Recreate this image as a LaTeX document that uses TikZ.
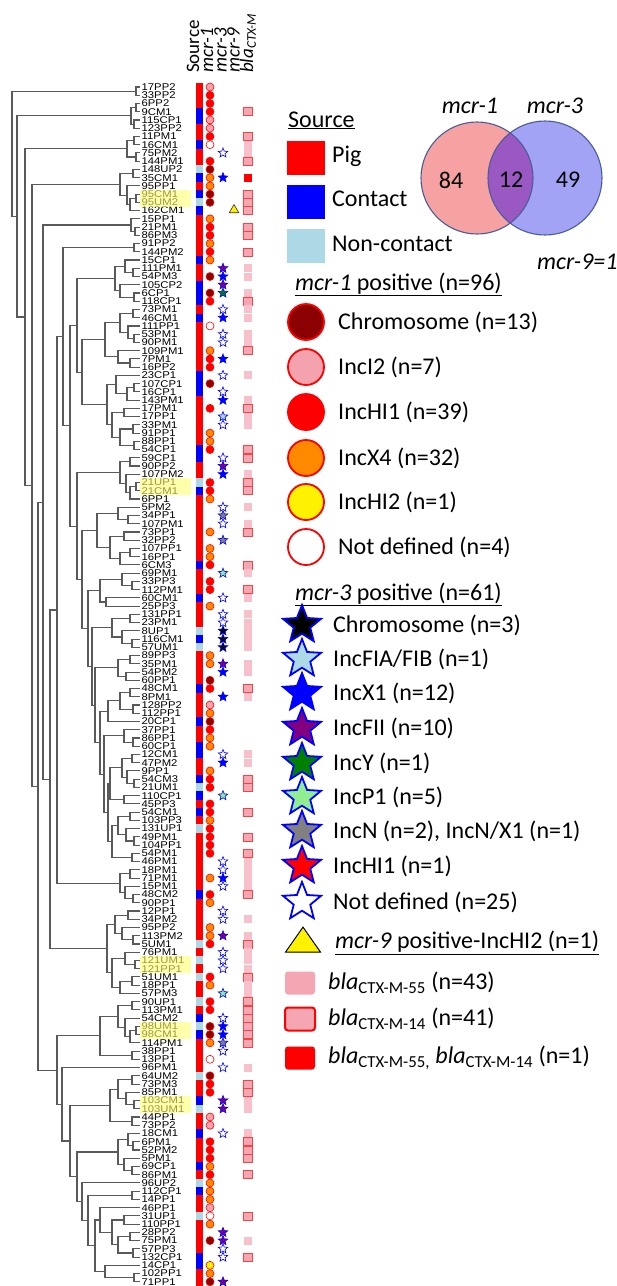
\documentclass[tikz,border=0pt]{standalone}
\usepackage{fontspec}
\setmainfont{Carlito}
\newfontfamily\labfont[FakeStretch=1.15]{Liberation Sans}
\usetikzlibrary{shapes.geometric,calc}
\definecolor{srcP}{HTML}{FF0000}
\definecolor{srcC}{HTML}{0000FF}
\definecolor{srcU}{HTML}{ADD8E6}
\definecolor{chromo}{HTML}{8B0000}
\definecolor{inctwo}{HTML}{F4A3AE}
\definecolor{incxfour}{HTML}{FF8A00}
\definecolor{blapink}{HTML}{F4A6B3}
\definecolor{blalight}{HTML}{F8C0CA}
\definecolor{vennL}{HTML}{F6A2A2}
\definecolor{vennR}{HTML}{A3A3F6}
\definecolor{vennM}{HTML}{9A58C2}
\definecolor{vennline}{HTML}{4A5D9A}
\definecolor{hlyellow}{HTML}{FFFF70}
\definecolor{starlb}{HTML}{ADD8E6}
\definecolor{starlg}{HTML}{90EE90}
\definecolor{starpurple}{HTML}{800080}
\definecolor{stargreen}{HTML}{008000}
\definecolor{treegray}{HTML}{5A5A5A}
\newcommand\hdfont{\fontsize{19}{19}\selectfont}
\newcommand\lgfont{\fontsize{24}{28}\selectfont}
\newcounter{tnode}
\newcommand\dgL[1]{\xdef\dglast{l#1}}
\newcommand\dgT[3]{\begingroup #2\let\dga\dglast #3\let\dgb\dglast
  \stepcounter{tnode}\edef\dgn{t\arabic{tnode}}%
  \path let \p1=(\dga), \p2=(\dgb) in coordinate (\dgn) at (#1pt,{0.5*(\y1+\y2)});
  \draw[tree] (\dga) -- (\dga -| \dgn) -- (\dgb -| \dgn) -- (\dgb);
  \xdef\dglast{\dgn}\endgroup}
\newcommand\dgP[3]{\dgT{#1}{\dgL{#2}}{\dgL{#3}}}
% tree topology
\def\dgCone{\dgP{136}{0}{1}}
\def\dgCtwo{\dgT{131}{\dgP{136}{2}{3}}{\dgP{134}{4}{5}}}
\def\dgCthree{\dgT{127}{\dgP{134}{6}{7}}{\dgP{136}{8}{9}}}
\def\dgCfour{\dgT{120}{\dgP{133}{10}{11}}{\dgT{127}{\dgL{12}}{\dgT{130}{\dgP{136}{13}{14}}{\dgL{15}}}}}
\def\dgCfive{\dgT{131}{\dgL{16}}{\dgP{135}{17}{18}}}
\def\dgCsix{\dgP{134}{19}{20}}
\def\dgCA{\dgT{115}{\dgT{125}{\dgL{21}}{\dgP{133}{22}{23}}}{\dgT{120}{\dgL{24}}{\dgP{134}{25}{26}}}}
\def\dgCB{\dgT{105}{\dgT{120}{\dgP{133}{27}{28}}{\dgT{128}{\dgL{29}}{\dgP{134}{30}{31}}}}{\dgT{118}{\dgL{32}}{\dgP{130}{33}{34}}}}
\def\dgCC{\dgT{107}{\dgT{116}{\dgL{35}}{\dgT{127}{\dgP{134}{36}{37}}{\dgL{38}}}}{\dgT{112}{\dgP{124}{39}{40}}{\dgT{120}{\dgP{133}{41}{42}}{\dgP{134}{43}{44}}}}}
\def\dgCD{\dgT{120}{\dgP{130}{45}{46}}{\dgT{126}{\dgL{47}}{\dgT{130}{\dgP{136}{48}{49}}{\dgL{50}}}}}
\def\dgGone{\dgT{97}{\dgT{118}{\dgL{51}}{\dgP{128}{52}{53}}}{\dgT{110}{\dgP{124}{54}{55}}{\dgT{120}{\dgP{130}{56}{57}}{\dgL{58}}}}}
\def\dgGtwo{\dgT{122}{\dgL{59}}{\dgP{132}{60}{61}}}
\def\dgGfive{\dgT{112}{\dgP{130}{64}{65}}{\dgT{122}{\dgL{66}}{\dgP{132}{67}{68}}}}
\def\dgGsix{\dgT{118}{\dgP{130}{69}{70}}{\dgP{126}{71}{72}}}
\def\dgGseven{\dgT{120}{\dgP{130}{73}{74}}{\dgP{133}{75}{76}}}
\def\dgGnine{\dgT{124}{\dgL{78}}{\dgP{133}{79}{80}}}
\def\dgGten{\dgT{110}{\dgT{122}{\dgP{132}{81}{82}}{\dgT{127}{\dgL{83}}{\dgP{134}{84}{85}}}}{\dgP{124}{86}{87}}}
\def\dgGeleven{\dgT{118}{\dgP{130}{88}{89}}{\dgT{126}{\dgL{90}}{\dgP{134}{91}{92}}}}
\def\dgGtwelve{\dgP{132}{93}{94}}
\def\dgTsix{\dgT{108}{\dgGten}{\dgT{112}{\dgGeleven}{\dgGtwelve}}}
\def\dgTfive{\dgT{104}{\dgGnine}{\dgTsix}}
\def\dgTfour{\dgT{100}{\dgT{108}{\dgGseven}{\dgL{77}}}{\dgTfive}}
\def\dgTthree{\dgT{95}{\dgGsix}{\dgTfour}}
\def\dgTtwo{\dgT{92}{\dgGfive}{\dgTthree}}
\def\dgTone{\dgT{88}{\dgT{100}{\dgGtwo}{\dgP{106}{62}{63}}}{\dgTtwo}}
\def\dgCE{\dgT{82}{\dgGone}{\dgTone}}
\def\dgNb{\dgT{77}{\dgCD}{\dgCE}}
\def\dgNa{\dgT{77}{\dgCA}{\dgT{82}{\dgCB}{\dgCC}}}
\def\dgNseventy{\dgT{70}{\dgNa}{\dgNb}}
\def\dgNsixtythree{\dgT{63}{\dgCsix}{\dgNseventy}}
\def\dgCF{\dgT{120}{\dgP{130}{95}{96}}{\dgT{125}{\dgL{97}}{\dgP{133}{98}{99}}}}
\def\dgCG{\dgT{107}{\dgT{115}{\dgP{128}{100}{101}}{\dgT{122}{\dgL{102}}{\dgP{133}{103}{104}}}}{\dgT{112}{\dgT{125}{\dgL{105}}{\dgP{135}{106}{107}}}{\dgT{120}{\dgP{132}{108}{109}}{\dgL{110}}}}}
\def\dgNfiftyseven{\dgT{57}{\dgNsixtythree}{\dgCF}}
\def\dgNfifty{\dgT{50}{\dgNfiftyseven}{\dgCG}}
\def\dgNfortythree{\dgT{43}{\dgCfive}{\dgNfifty}}
\def\dgZone{\dgT{118}{\dgP{132}{111}{112}}{\dgT{125}{\dgL{113}}{\dgT{130}{\dgP{136}{114}{115}}{\dgL{116}}}}}
\def\dgZfour{\dgT{118}{\dgP{132}{120}{121}}{\dgT{126}{\dgL{122}}{\dgP{134}{123}{124}}}}
\def\dgZsix{\dgT{118}{\dgT{128}{\dgL{127}}{\dgP{133}{128}{129}}}{\dgT{124}{\dgL{130}}{\dgP{132}{131}{132}}}}
\def\dgZten{\dgT{112}{\dgP{124}{137}{138}}{\dgT{118}{\dgP{130}{139}{140}}{\dgP{133}{141}{142}}}}
\def\dgYseven{\dgT{105}{\dgL{143}}{\dgP{134}{144}{145}}}
\def\dgYsix{\dgT{95}{\dgT{100}{\dgL{136}}{\dgZten}}{\dgYseven}}
\def\dgYfive{\dgT{88}{\dgP{132}{134}{135}}{\dgYsix}}
\def\dgYfour{\dgT{82}{\dgL{133}}{\dgYfive}}
\def\dgYthree{\dgT{77}{\dgZsix}{\dgYfour}}
\def\dgYtwo{\dgT{70}{\dgT{110}{\dgZfour}{\dgP{132}{125}{126}}}{\dgYthree}}
\def\dgYone{\dgT{62}{\dgL{119}}{\dgYtwo}}
\def\dgZ{\dgT{57}{\dgT{100}{\dgZone}{\dgP{132}{117}{118}}}{\dgYone}}
\def\dgNthirtyeight{\dgT{38}{\dgNfortythree}{\dgZ}}
\def\dgRthree{\dgT{32}{\dgCfour}{\dgNthirtyeight}}
\def\dgRtwo{\dgT{25}{\dgCthree}{\dgRthree}}
\def\dgRone{\dgT{17}{\dgCtwo}{\dgRtwo}}
\def\dgRoot{\dgT{12}{\dgCone}{\dgRone}}
\tikzset{
  tree/.style={draw=treegray, line width=1.1pt},
  lab/.style={font=\labfont\fontsize{9.8}{9.8}\selectfont, inner sep=0.5pt, anchor=west},
  mk/.style={circle, inner sep=0pt, minimum size=8pt, line width=0.6pt, draw=red},
  m1D/.style={mk, fill=chromo},
  m1I/.style={mk, fill=inctwo},
  m1H/.style={mk, fill=red},
  m1X/.style={mk, fill=incxfour},
  m1Y/.style={mk, fill=yellow},
  m1N/.style={mk, fill=white},
  st/.style={star, star points=5, star point ratio=2.3, inner sep=0pt, minimum size=10pt, line width=0.6pt, draw=blue},
  m3K/.style={st, fill=black},
  m3A/.style={st, fill=starlb},
  m3B/.style={st, fill=blue},
  m3F/.style={st, fill=starpurple},
  m3G/.style={st, fill=stargreen},
  m3L/.style={st, fill=starlg},
  m3R/.style={st, fill=gray},
  m3E/.style={st, fill=red},
  m3W/.style={st, fill=white},
  sq/.style={rectangle, inner sep=0pt, minimum width=8.5pt, minimum height=8pt},
  blaA/.style={sq, fill=blalight},
  blaB/.style={sq, fill=blapink, draw=red!75, line width=0.6pt},
  blaC/.style={sq, fill=red},
  leg/.style={font=\lgfont, inner sep=0pt},
  lcirc/.style={circle, inner sep=0pt, minimum size=36pt, line width=1.8pt, draw=red},
  lstar/.style={star, star points=5, star point ratio=2.3, inner sep=0pt, minimum size=40pt, line width=1.8pt, draw=blue},
  lsq/.style={rectangle, rounded corners=3pt, inner sep=0pt, minimum width=30pt, minimum height=23pt},
  hdr/.style={font=\hdfont, rotate=90, anchor=west, inner sep=0pt},
}
\begin{document}
\begin{tikzpicture}[x=1pt,y=-1pt]
\fill[white] (0,0) rectangle (617,1286);
\useasboundingbox (0,0) rectangle (617,1286);
% header
\node[hdr] (hsrc) at (193,73) {Source};
\node[hdr] (hm1) at (207,73) {\textit{mcr-1}};
\node[hdr] (hm3) at (220.5,73) {\textit{mcr-3}};
\node[hdr] (hm9) at (233.5,73) {\textit{mcr-9}};
\node[hdr] (hbla) at (248,73) {\textit{bla}\textsubscript{\textit{CTX-M}}};
% rows
\foreach \lab/\sr/\ma/\mb/\bl [count=\i from 0] in {
17PP2/P/I/O/O,33PP2/P/H/O/O,6PP2/P/H/O/O,9CM1/C/H/O/B,115CP1/C/I/O/O,123PP2/P/I/O/O,
11PM1/P/H/O/B,16CM1/C/N/O/A,75PM2/P/O/W/A,144PM1/P/H/O/B,148UP2/U/D/O/O,35CM1/C/X/B/C,
95PP1/P/X/O/O,95CM1/C/D/O/B,95UM2/U/D/O/B,162CM1/C/O/O/B,15PP1/P/X/O/O,21PM1/P/H/O/B,
86PM3/P/H/O/B,91PP2/P/X/O/O,144PM2/P/H/O/B,15CP1/C/X/O/O,111PM1/P/O/F/A,54PM3/P/D/B/A,
105CP2/C/O/F/O,6CP1/C/D/G/A,118CP1/C/H/O/B,73PM1/P/O/W/A,46CM1/C/O/B/A,111PP1/P/N/O/O,
53PM1/P/O/W/A,90PM1/P/O/W/A,109PM1/P/X/O/B,7PM1/P/H/B/O,16PP2/P/H/O/O,23CP1/C/O/W/A,
107CP1/C/D/O/O,16CP1/C/O/W/O,143PM1/P/O/B/A,17PM1/P/H/O/B,17PP1/P/O/A/A,33PM1/P/O/W/A,
91PP1/P/X/O/O,88PP1/P/X/O/O,54CP1/C/H/O/B,59CP1/C/O/W/B,90PP2/P/O/F/O,107PM2/P/O/B/A,
21UP1/U/H/O/B,21CM1/C/H/O/B,6PP1/P/X/O/O,5PM2/P/O/W/A,34PP1/P/O/R/O,107PM1/P/O/W/A,
73PP1/P/X/O/B,32PP2/P/O/R/O,107PP1/P/X/O/O,16PP1/P/X/O/O,6CM3/C/H/O/B,69PM1/P/O/L/A,
33PP3/P/H/O/O,112PM1/P/H/O/B,60CM1/C/O/W/A,25PP3/P/X/O/O,131PP1/P/O/W/A,23PM1/P/O/W/A,
8UP1/U/O/K/A,116CM1/C/O/K/A,57UM1/U/O/K/A,89PP3/P/X/O/O,35PM1/P/X/F/A,54PM2/P/O/B/A,
60PP1/P/D/O/O,48CM1/C/H/O/B,8PM1/P/O/B/A,128PP2/P/I/O/O,112PP1/P/X/O/O,20CP1/C/D/O/O,
37PP1/P/H/O/O,86PP1/P/X/O/O,60CP1/C/X/O/O,12CM1/C/O/W/A,47PM2/P/O/B/A,9PP1/P/X/O/O,
54CM3/C/H/O/B,21UM1/U/H/O/B,110CP1/C/O/L/O,45PP3/P/H/O/O,54CM1/C/H/O/B,103PP3/P/X/O/O,
131UP1/U/H/O/O,49PM1/P/H/O/B,104PP1/P/H/O/O,54PM1/P/H/O/B,46PM1/P/O/W/A,18PM1/P/O/W/A,
71PM1/P/X/B/A,15PM1/P/O/W/A,48CM2/C/H/O/B,90PP1/P/X/O/O,12PP1/P/O/W/O,34PM2/P/O/W/A,
95PP2/P/X/O/O,113PM2/P/X/F/A,5UM1/U/H/O/B,76PM1/P/O/W/A,121UM1/U/O/W/A,121PP1/P/O/W/A,
51UM1/U/H/O/B,18PP1/P/X/O/A,57PM3/P/O/L/A,90UP1/U/H/O/B,113PM1/P/H/O/B,54CM2/C/O/W/B,
98UM1/U/D/B/B,98CM1/C/D/B/B,114PM1/P/X/R/B,38PP1/P/O/W/O,13PP1/P/N/O/O,96PM1/P/O/W/A,
64UM2/U/D/O/O,73PM3/P/H/O/B,85PM1/P/H/O/B,103CM1/C/O/F/A,103UM1/U/O/F/A,44PP1/P/I/O/O,
73PP2/P/I/O/O,18CM1/C/O/W/A,6PM1/P/H/O/B,52PM2/P/H/O/B,5PM1/P/H/O/B,69CP1/C/X/O/O,
86PM1/P/H/O/B,96UP2/U/X/O/O,112CP1/C/X/O/O,14PP1/P/X/O/O,46PP1/P/I/O/O,31UP1/U/N/O/B,
110PP1/P/X/O/O,28PP2/P/O/F/O,75PM1/P/D/F/A,57PP3/P/O/W/O,132CP1/C/O/W/B,14CP1/C/Y/O/O,
102PP1/P/X/O/O,71PP1/P/D/F/O}{
  \pgfmathsetmacro\yy{87+8.24*\i}
  \coordinate (l\i) at (140,\yy);
  \node[lab] (n\i) at (141,\yy) {\lab};
  \fill[fill=src\sr] (196,{\yy-4.2}) rectangle (203,{\yy+4.2});
  \if O\ma\else\node[m1\ma] (a\i) at (210,\yy) {};\fi
  \if O\mb\else\node[m3\mb] (b\i) at (223,\yy) {};\fi
  \if O\bl\else\node[bla\bl] (c\i) at (248,\yy) {};\fi
}
% mcr-9 triangle
\node[regular polygon, regular polygon sides=3, inner sep=0pt, minimum size=11pt, fill=yellow, draw=black!80, line width=0.6pt] (tri9) at (234,210) {};
% highlights
\foreach \p in {13,48,106,114,123}{
  \pgfmathsetmacro\ya{87+8.24*\p-4.6}
  \pgfmathsetmacro\yb{87+8.24*(\p+1)+4.4}
  \fill[hlyellow, fill opacity=0.6] (140,\ya) rectangle (191,\yb);
}
% dendrogram
\dgRoot
% legend: source
\node[leg, anchor=base west] (lsrc) at (288,127) {\underline{Source}};
\node[rectangle, inner sep=0pt, minimum width=38pt, minimum height=34pt, fill=srcP] (lpig) at (306,158) {};
\node[rectangle, inner sep=0pt, minimum width=38pt, minimum height=34pt, fill=srcC] (lcon) at (306,202) {};
\node[rectangle, inner sep=0pt, minimum width=38pt, minimum height=34pt, fill=srcU] (lnon) at (306,246) {};
\node[leg, anchor=base west] (tpig) at (332,162) {Pig};
\node[leg, anchor=base west] (tcon) at (332,206) {Contact};
\node[leg, anchor=base west] (tnon) at (332,251) {Non-contact};
% venn
\fill[vennL] (477,178) circle (56pt);
\fill[vennR] (545,178) circle (57pt);
\begin{scope}
\clip (477,178) circle (56pt);
\fill[vennM] (545,178) circle (57pt);
\end{scope}
\draw[vennline, line width=1.1pt] (477,178) circle (56pt);
\draw[vennline, line width=1.1pt] (545,178) circle (57pt);
\node[leg] (vm1) at (470,106) {\textit{mcr-1}};
\node[leg] (vm3) at (555,106) {\textit{mcr-3}};
\node[leg] (v84) at (451,180) {84};
\node[leg] (v12) at (511,180) {12};
\node[leg] (v49) at (568,180) {49};
\node[leg, anchor=west] (vm9) at (537,262) {\textit{mcr-9=1}};
% legend: mcr-1
\node[leg, anchor=base west] (lm1) at (295,290) {\underline{\textit{mcr-1} positive (n=96)}};
\node[lcirc, fill=chromo] (lc1) at (306,322) {};
\node[lcirc, fill=inctwo] (lc2) at (306,367) {};
\node[lcirc, fill=red] (lc3) at (306,412) {};
\node[lcirc, fill=incxfour] (lc4) at (306,458) {};
\node[lcirc, fill=yellow] (lc5) at (306,502) {};
\node[lcirc, fill=white] (lc6) at (306,547) {};
\node[leg, anchor=west] (tc1) at (338,322) {Chromosome (n=13)};
\node[leg, anchor=west] (tc2) at (338,367) {IncI2 (n=7)};
\node[leg, anchor=west] (tc3) at (338,412) {IncHI1 (n=39)};
\node[leg, anchor=west] (tc4) at (338,458) {IncX4 (n=32)};
\node[leg, anchor=west] (tc5) at (338,502) {IncHI2 (n=1)};
\node[leg, anchor=west] (tc6) at (338,547) {Not defined (n=4)};
% legend: mcr-3
\node[leg, anchor=base west] (lm3) at (295,600) {\underline{\textit{mcr-3} positive (n=61)}};
\node[lstar, fill=black] (ls1) at (302,625) {};
\node[lstar, fill=starlb] (ls2) at (302,659) {};
\node[lstar, fill=blue] (ls3) at (302,693) {};
\node[lstar, fill=starpurple] (ls4) at (302,728) {};
\node[lstar, fill=stargreen] (ls5) at (302,763) {};
\node[lstar, fill=starlg] (ls6) at (302,797) {};
\node[lstar, fill=gray] (ls7) at (302,831) {};
\node[lstar, fill=red] (ls8) at (302,866) {};
\node[lstar, fill=white] (ls9) at (302,902) {};
\node[leg, anchor=west] (ts1) at (333,625) {Chromosome (n=3)};
\node[leg, anchor=west] (ts2) at (333,659) {IncFIA/FIB (n=1)};
\node[leg, anchor=west] (ts3) at (333,693) {IncX1 (n=12)};
\node[leg, anchor=west] (ts4) at (333,728) {IncFII (n=10)};
\node[leg, anchor=west] (ts5) at (333,763) {IncY (n=1)};
\node[leg, anchor=west] (ts6) at (333,797) {IncP1 (n=5)};
\node[leg, anchor=west] (ts7) at (333,831) {IncN (n=2), IncN/X1 (n=1)};
\node[leg, anchor=west] (ts8) at (333,866) {IncHI1 (n=1)};
\node[leg, anchor=west] (ts9) at (333,902) {Not defined (n=25)};
% legend: mcr-9
\node[isosceles triangle, isosceles triangle apex angle=70, shape border rotate=90, inner sep=0pt, minimum width=35pt, minimum height=25pt, fill=yellow, draw=black, line width=1pt] (ltri) at (303,943) {};
\node[leg, anchor=west] (ttri) at (335,943) {\underline{\textit{mcr-9} positive-IncHI2 (n=1)}};
% legend: bla
\node[lsq, fill=blapink] (lb1) at (300,983) {};
\node[lsq, fill=blapink, draw=red, line width=2pt] (lb2) at (300,1019) {};
\node[lsq, fill=red] (lb3) at (300,1058) {};
\node[leg, anchor=west] (tb1) at (328,983) {\textit{bla}\textsubscript{CTX-M-55} (n=43)};
\node[leg, anchor=west] (tb2) at (328,1019) {\textit{bla}\textsubscript{CTX-M-14} (n=41)};
\node[leg, anchor=west] (tb3) at (328,1058) {\textit{bla}\textsubscript{CTX-M-55,} \textit{bla}\textsubscript{CTX-M-14} (n=1)};
\end{tikzpicture}
\end{document}
